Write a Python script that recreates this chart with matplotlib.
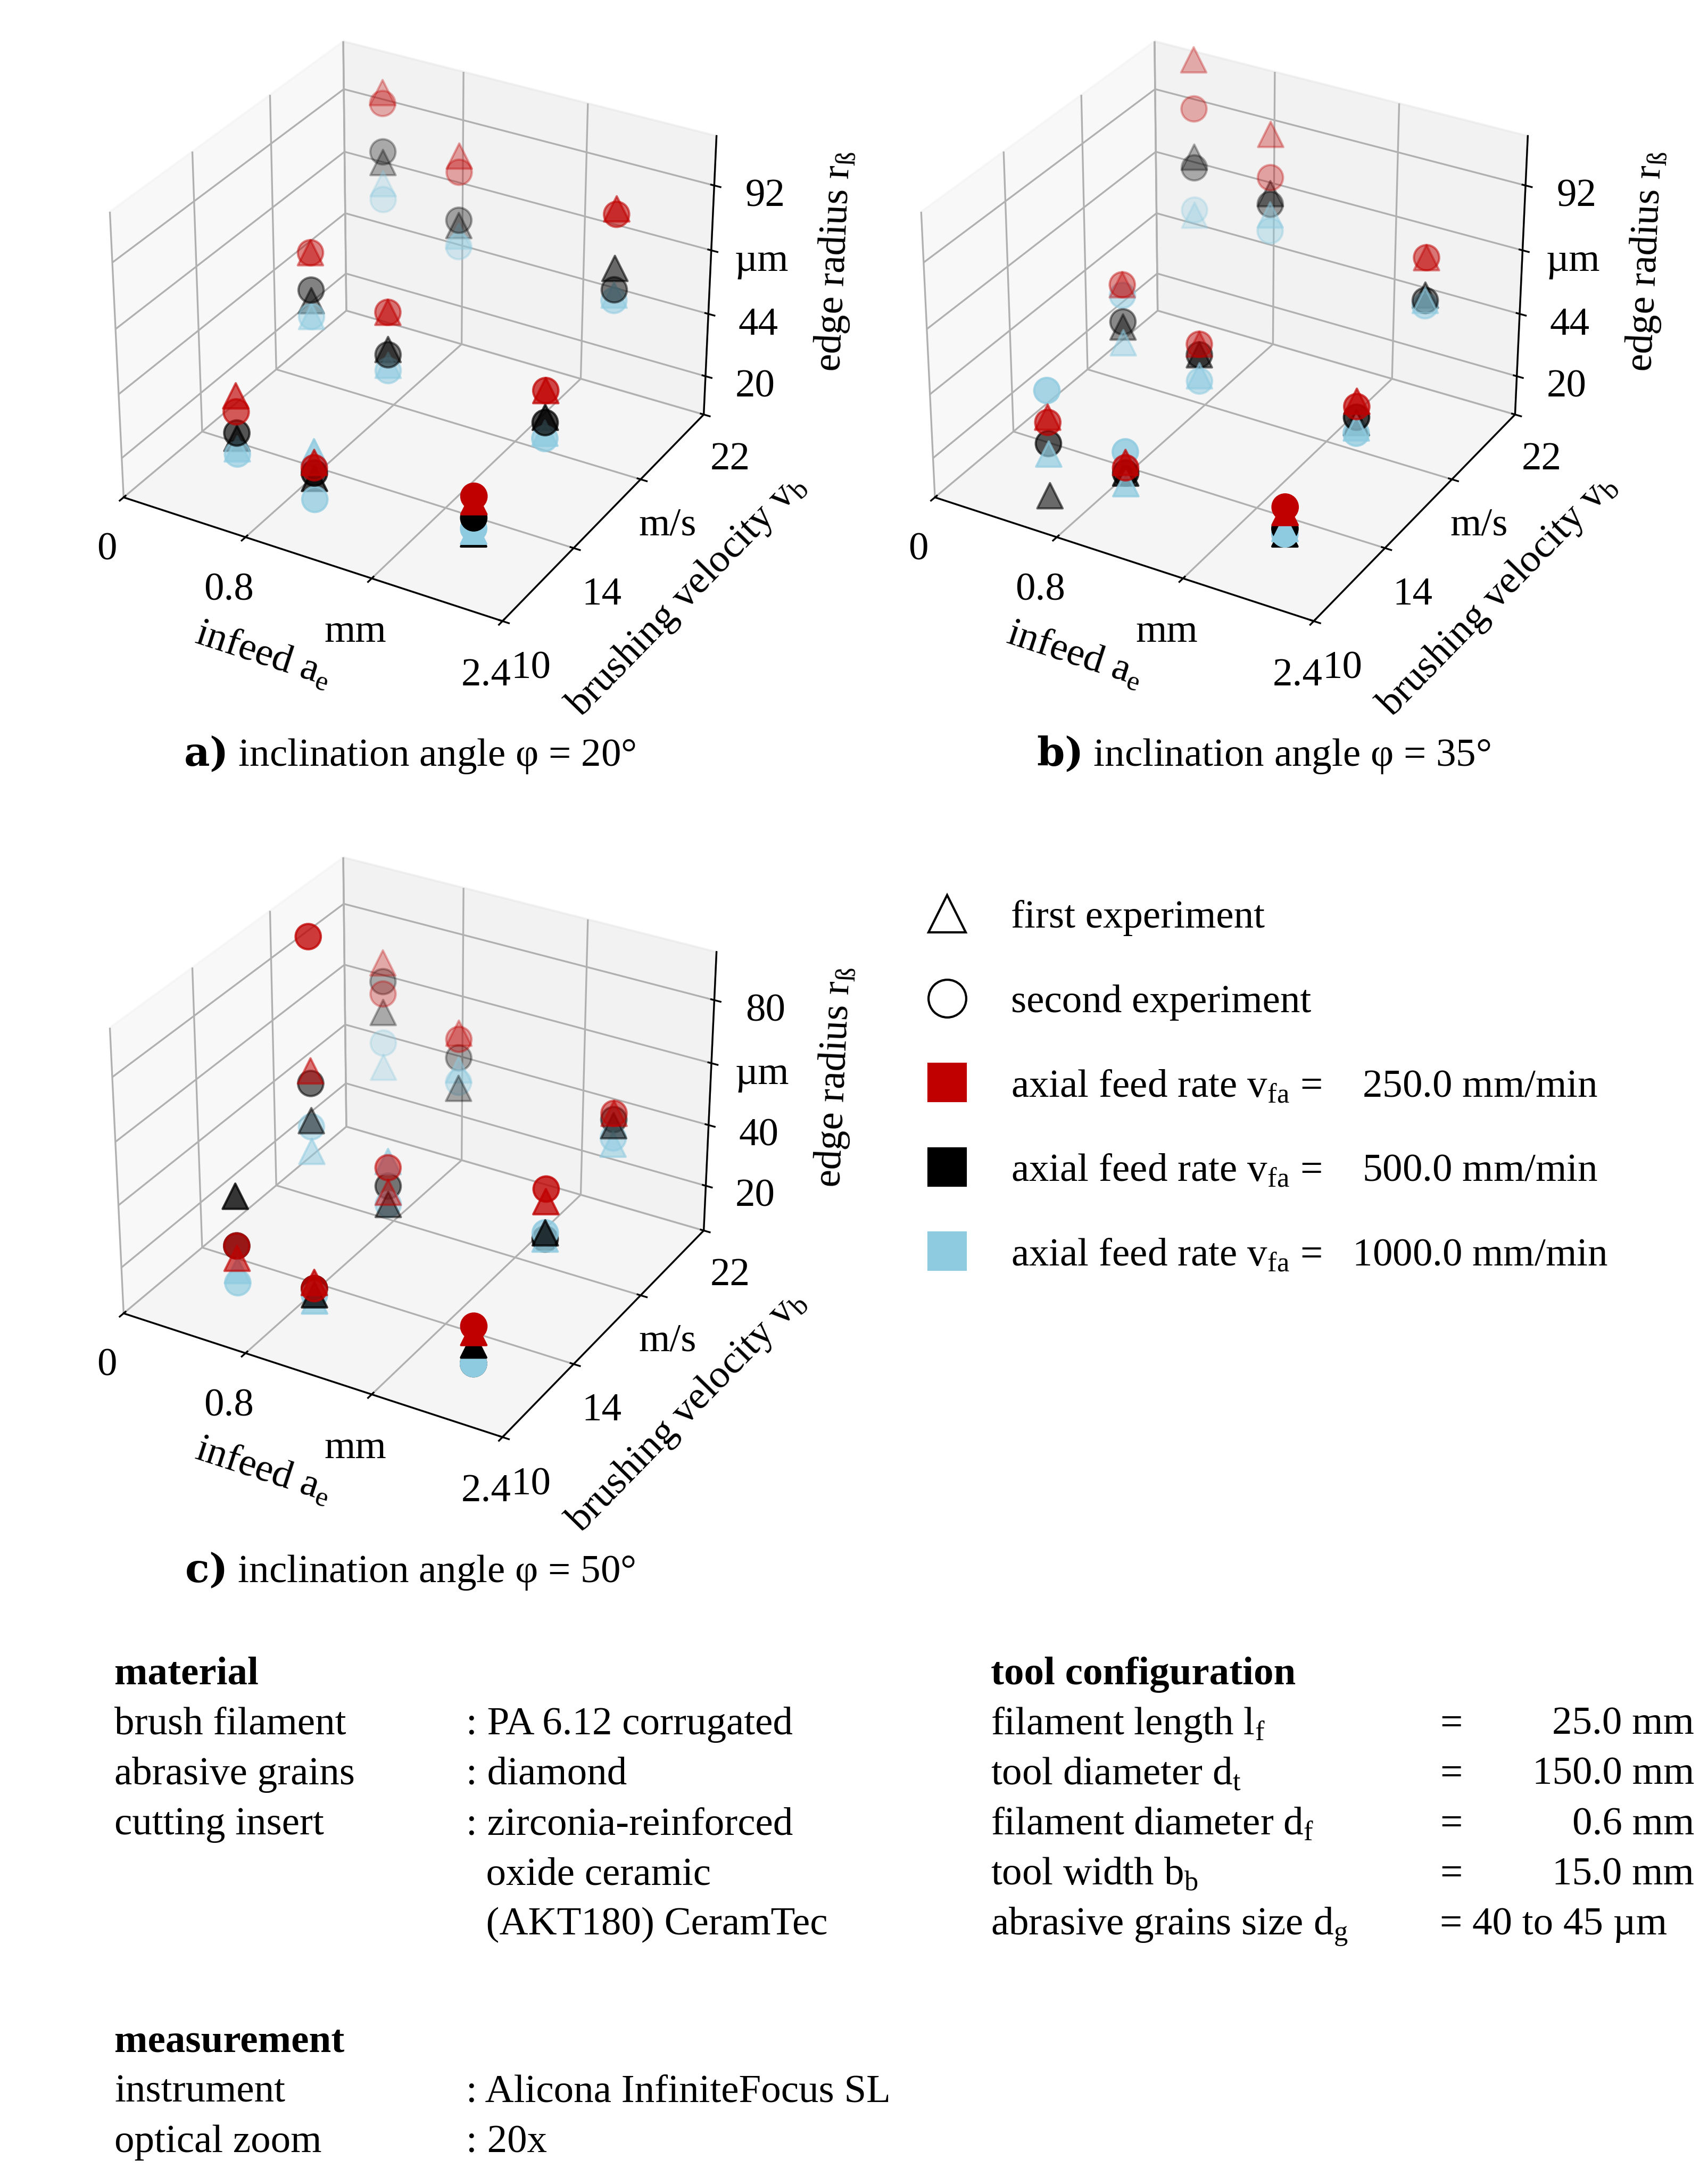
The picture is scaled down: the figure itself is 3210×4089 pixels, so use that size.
import numpy as np
import matplotlib.pyplot as plt
from matplotlib.lines import Line2D

plt.rcParams["font.family"] = ["Liberation Serif", "DejaVu Serif"]
plt.rcParams["mathtext.fontset"] = "dejavuserif"

# measurement grid: infeed a_e (mm) and brushing velocity v_b (m/s)
AE = [0.5, 1.0, 2.0, 0.5, 1.0, 2.0, 0.5, 1.0, 2.0]
VB = [12, 12, 12, 16, 16, 16, 20, 20, 20]

# edge radius (um) per panel: [feed rate][experiment] -> 9 positions
R20 = {
    "red": ([40, 24, 28, 70, 56, 44, 108, 92, 88], [34, 22, 30, 70, 56, 44, 104, 86, 86]),
    "black": ([24, 18, 16, 52, 42, 34, 82, 66, 66], [26, 20, 22, 56, 40, 32, 86, 68, 58]),
    "cyan": ([20, 28, 17, 46, 36, 28, 74, 62, 56], [18, 10, 18, 46, 34, 26, 68, 58, 54]),
}
R35 = {
    "red": ([32, 24, 24, 58, 44, 40, 120, 100, 70], [30, 22, 26, 58, 44, 38, 102, 84, 70]),
    "black": ([2, 20, 16, 42, 40, 32, 84, 78, 56], [22, 20, 18, 44, 40, 34, 80, 74, 54]),
    "cyan": ([18, 16, 18, 36, 32, 30, 62, 70, 54], [42, 28, 16, 54, 30, 28, 64, 64, 52]),
}
R50 = {
    "red": ([20, 20, 20, 60, 28, 40, 76, 60, 48], [24, 18, 22, 102, 36, 44, 66, 58, 48]),
    "black": ([40, 16, 16, 44, 24, 30, 60, 42, 44], [24, 18, 10, 56, 30, 28, 70, 52, 46]),
    "cyan": ([16, 14, 14, 34, 38, 28, 42, 48, 38], [12, 16, 10, 42, 24, 30, 50, 44, 40]),
}
COLORS = {"red": "#C00000", "black": "#000000", "cyan": "#8FCBE0"}
FEEDS = {"red": "250.0", "black": "500.0", "cyan": "1000.0"}

X_TICKS = [0, 0.8, 1.6, 2.4]
X_LABELS = ["0", "0.8", "mm", "2.4"]
Y_TICKS = [10, 14, 18, 22]
Y_LABELS = ["10", "14", "m/s", "22"]

fs = 18
fig = plt.figure(figsize=(10.7, 13.63), dpi=300)


def panel(rect, data, zticks, zlabels, zlim, caption, cap_xy):
    ax = fig.add_axes(rect, projection="3d")
    for key, (first, second) in data.items():
        ax.scatter(AE, VB, first, marker="^", s=130, color=COLORS[key])
        ax.scatter(AE, VB, second, marker="o", s=130, color=COLORS[key])
    ax.set_xlim(0, 2.4)
    ax.set_ylim(10, 22)
    ax.set_zlim(*zlim)
    ax.set_xticks(X_TICKS, X_LABELS, fontsize=fs)
    ax.set_yticks(Y_TICKS, Y_LABELS, fontsize=fs)
    ax.set_zticks(zticks, zlabels, fontsize=fs)
    ax.tick_params(axis="z", pad=6)
    ax.set_xlabel(r"infeed a$_\mathregular{e}$", fontsize=fs, labelpad=10)
    ax.set_ylabel(r"brushing velocity v$_\mathregular{b}$", fontsize=fs, labelpad=12)
    ax.set_zlabel(r"edge radius r$_\mathregular{ß}$", fontsize=fs, labelpad=14)
    fig.text(cap_xy[0], cap_xy[1], caption, fontsize=fs, ha="center")
    return ax


panel([-0.01, 0.695, 0.5, 0.31], R20, [20, 44, 68, 92], ["20", "44", "µm", "92"], (5, 110),
      r"$\mathbf{a)}$ inclination angle φ = 20°", (0.24, 0.648))
panel([0.465, 0.695, 0.5, 0.31], R35, [20, 44, 68, 92], ["20", "44", "µm", "92"], (5, 110),
      r"$\mathbf{b)}$ inclination angle φ = 35°", (0.74, 0.648))
panel([-0.01, 0.32, 0.5, 0.31], R50, [20, 40, 60, 80], ["20", "40", "µm", "80"], (5, 95),
      r"$\mathbf{c)}$ inclination angle φ = 50°", (0.24, 0.273))

# legend
handles = [
    Line2D([], [], marker="^", ls="", mfc="none", mec="black", ms=17),
    Line2D([], [], marker="o", ls="", mfc="none", mec="black", ms=17),
]
labels = ["first experiment", "second experiment"]
for key in COLORS:
    handles.append(Line2D([], [], marker="s", ls="", color=COLORS[key], ms=17))
    labels.append(r"axial feed rate v$_\mathregular{fa}$ =  " + f"{FEEDS[key]:>7} mm/min")
fig.legend(handles, labels, loc="upper left", bbox_to_anchor=(0.51, 0.603),
           frameon=False, fontsize=fs, labelspacing=1.2, handletextpad=0.6)

# info table
row = 0.023
lx, cx, tx, ex, vx = 0.067, 0.273, 0.58, 0.843, 0.992
y0 = 0.226
fig.text(lx, y0, "material", fontsize=fs, weight="bold")
left_rows = [("brush filament", ": PA 6.12 corrugated"), ("abrasive grains", ": diamond"),
             ("cutting insert", ": zirconia-reinforced"), ("", "  oxide ceramic"),
             ("", "  (AKT180) CeramTec")]
for i, (a, b) in enumerate(left_rows):
    fig.text(lx, y0 - (i + 1) * row, a, fontsize=fs)
    fig.text(cx, y0 - (i + 1) * row, b, fontsize=fs)
fig.text(tx, y0, "tool configuration", fontsize=fs, weight="bold")
right_rows = [(r"filament length l$_\mathregular{f}$", "25.0 mm"),
              (r"tool diameter d$_\mathregular{t}$", "150.0 mm"),
              (r"filament diameter d$_\mathregular{f}$", "0.6 mm"),
              (r"tool width b$_\mathregular{b}$", "15.0 mm")]
for i, (a, b) in enumerate(right_rows):
    fig.text(tx, y0 - (i + 1) * row, a, fontsize=fs)
    fig.text(ex, y0 - (i + 1) * row, "=", fontsize=fs)
    fig.text(vx, y0 - (i + 1) * row, b, fontsize=fs, ha="right")
fig.text(tx, y0 - 5 * row, r"abrasive grains size d$_\mathregular{g}$", fontsize=fs)
fig.text(ex, y0 - 5 * row, "= 40 to 45 µm", fontsize=fs)

y1 = 0.057
fig.text(lx, y1, "measurement", fontsize=fs, weight="bold")
for i, (a, b) in enumerate([("instrument", ": Alicona InfiniteFocus SL"), ("optical zoom", ": 20x")]):
    fig.text(lx, y1 - (i + 1) * row, a, fontsize=fs)
    fig.text(cx, y1 - (i + 1) * row, b, fontsize=fs)

fig.savefig("out.png", dpi=300)
